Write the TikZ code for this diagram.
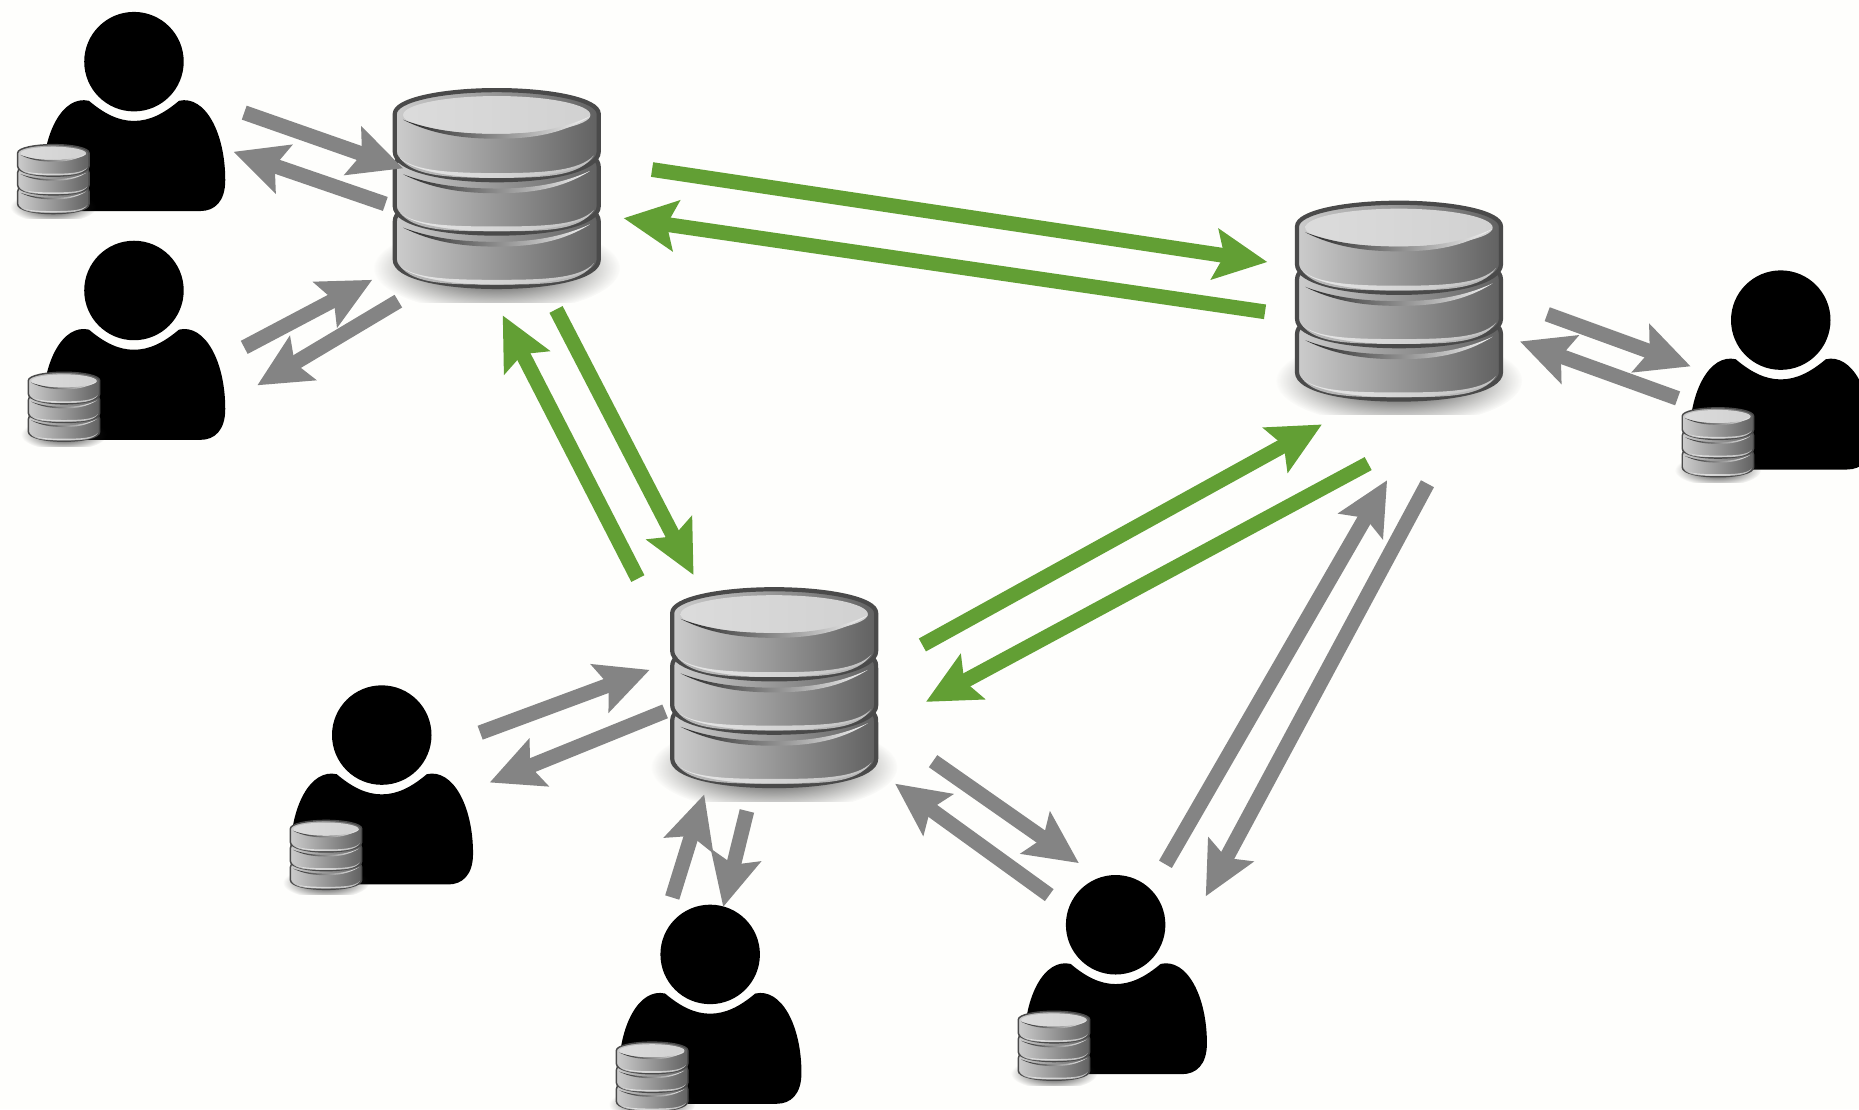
\documentclass[tikz,border=0pt]{standalone}
\usetikzlibrary{positioning,arrows.meta,fadings}

\definecolor{paper}{HTML}{FEFEFC}
\definecolor{flowgreen}{HTML}{629F34}
\definecolor{flowgray}{HTML}{848484}
\definecolor{dbedge}{HTML}{4A4A4A}
\tikzfading[name=dbfade, inner color=transparent!0, outer color=transparent!100]

\newcommand{\dbseg}[3]{%
    \shadedraw[dbline, left color=black!20, middle color=black!33, right color=black!62]
        (-83,#1) .. controls (-86,#1+3) and (-86,#1+5) .. (-86,#1+9) -- (-86,#2-6)
        .. controls (-86,#2+9) and (-45,#3) .. (0,#3)
        .. controls (45,#3) and (86,#2+9) .. (86,#2-6) -- (86,#1+9)
        .. controls (86,#1+5) and (86,#1+3) .. (83,#1) -- cycle;
    \fill[white, opacity=0.6] (-82,#2-1) .. controls (-70,#2+10) and (-40,#3-6) .. (0,#3-6)
        .. controls (40,#3-6) and (70,#2+10) .. (82,#2-3)
        .. controls (70,#2+15) and (40,#3-2) .. (0,#3-2)
        .. controls (-40,#3-2) and (-70,#2+15) .. (-82,#2-1) -- cycle;
}
\newcommand{\dbcrease}[1]{%
    \shade[left color=black!85, middle color=black!45, right color=black!5]
        (-79,#1) .. controls (-55,#1+9) and (-30,#1+12) .. (0,#1+12)
        .. controls (30,#1+12) and (55,#1+8) .. (79,#1-3)
        .. controls (55,#1+12) and (30,#1+16) .. (0,#1+16)
        .. controls (-30,#1+16) and (-55,#1+12) .. (-79,#1) -- cycle;
}

\begin{document}
\begin{tikzpicture}[
    x=0.023712cm, y=-0.023712cm,
    dbline/.style={draw=dbedge, line join=round},
    flow/.style={-{Stealth[length=1.05cm, width=1cm, inset=0.18cm]}},
    green flow/.style={flow, color=flowgreen, line width=8.4pt},
    gray flow/.style={flow, color=flowgray, line width=8.4pt},
    dbstack/.pic={
        \begin{scope}[scale=#1, line width=#1*2.4pt]
            \node[minimum width=#1*4.08cm, minimum height=#1*3.95cm, inner sep=0pt] (-box) at (0,84) {};
            \begin{scope}
                \clip (-110,120) rectangle (110,179);
                \fill[black!85, path fading=dbfade] (0,150) ellipse [x radius=104, y radius=38];
            \end{scope}
            \dbseg{104}{149}{166}
            \dbcrease{116}
            \dbseg{58}{104}{121}
            \dbcrease{71}
            \shadedraw[dbline, left color=black!20, middle color=black!33, right color=black!62]
                (-86,20) .. controls (-86,8) and (-45,0) .. (0,0)
                .. controls (45,0) and (86,8) .. (86,20) -- (86,52)
                .. controls (86,67) and (45,76) .. (0,76)
                .. controls (-45,76) and (-86,67) .. (-86,52) -- cycle;
            \fill[white, opacity=0.6] (-82,57) .. controls (-70,68) and (-40,70) .. (0,70)
                .. controls (40,70) and (70,68) .. (82,55)
                .. controls (70,73) and (40,74) .. (0,74)
                .. controls (-40,74) and (-70,73) .. (-82,57) -- cycle;
            \shade[left color=black!14, middle color=black!9, right color=black!18]
                (0,21) ellipse [x radius=79, y radius=16];
            \dbcrease{25}
        \end{scope}
    },
    userbody/.pic={
        \fill[black] (-38,33) .. controls (-25,44) and (-13,50) .. (0,50)
            .. controls (13,50) and (25,44) .. (38,33)
            .. controls (60,28) and (77,60) .. (77,100)
            .. controls (77,118) and (68,126) .. (56,126) -- (-56,126)
            .. controls (-68,126) and (-77,118) .. (-77,100)
            .. controls (-77,60) and (-60,28) .. (-38,33) -- cycle;
    },
    head/.style={circle, fill=black, minimum size=1.99cm, inner sep=0pt}
]
    \clip[use as bounding box] (0,0) rectangle (1568,935.4);
    \fill[paper] (0,0) rectangle (1568,935.4);

    \foreach \name/\x/\y in {
        u00a/206/95, d00a/340/142, d00b/325/172, u00b/197/128,
        u01a/206/293, d01a/314/236, d01b/336/254, u01b/217/325,
        u02a/1305/265, d02a/1426/309, d02b/1415/336, u02b/1282/288,
        u03a/405/618, d03a/548/565, d03b/561/600, u03b/413/660,
        u04a/567/757, d04a/594/670, d04b/630/684, u04b/610/765,
        u05a/885/755, d05a/755/661, d05b/787/642, u05b/910/728,
        u06a/983/729, d06a/1170/405, d06b/1204/408, u06b/1017/756,
        g00a/550/143, g01a/1069/221, g01b/1067/263, g00b/526/184,
        g02a/469/261, g03a/585/485, g03b/538/488, g02b/424/266,
        g04a/778/544, g05a/1115/358, g05b/1154/391, g04b/781/592
    } {
        \coordinate (\name) at (\x,\y);
    }

    \pic (db00) at (419,76) {dbstack=1};
    \pic (db01) at (1180,171) {dbstack=1};
    \pic (db02) at (653,497) {dbstack=1};

    \foreach \name/\x/\y/\cx/\cy in {
        user00/113/52/45/122,
        user01/113/245/54/314,
        user02/1502/270/1449/344,
        user03/322/620/275/692,
        user04/599/805/550/879,
        user05/941/780/889/853
    } {
        \pic at (\x,\y) {userbody};
        \node[head] (\name) at (\x,\y) {};
        \pic (\name-db) at (\cx,\cy) {dbstack=0.35};
    }

    \foreach \from/\to in {u00a/d00a, d00b/u00b, u01a/d01a, d01b/u01b,
        u02a/d02a, d02b/u02b, u03a/d03a, d03b/u03b, u04a/d04a, d04b/u04b,
        u05a/d05a, d05b/u05b, u06a/d06a, d06b/u06b} {
        \draw[gray flow] (\from) -- (\to);
    }
    \foreach \from/\to in {g00a/g01a, g01b/g00b, g02a/g03a, g03b/g02b,
        g04a/g05a, g05b/g04b} {
        \draw[green flow] (\from) -- (\to);
    }
\end{tikzpicture}
\end{document}
